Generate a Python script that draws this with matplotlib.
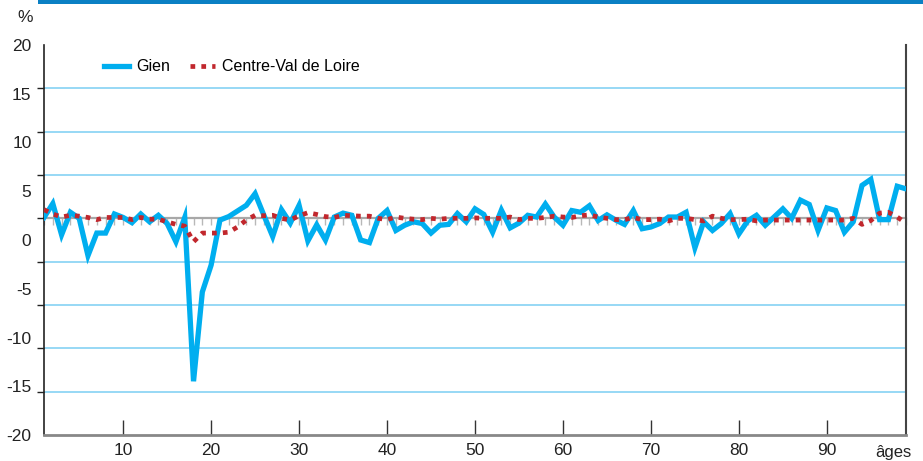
"""Gien vs Centre-Val de Loire: écart par âge (%), line chart."""

import numpy as np
import matplotlib

matplotlib.use("Agg")
import matplotlib.pyplot as plt
from matplotlib.patches import Rectangle

plt.rcParams["font.family"] = ["Liberation Sans", "DejaVu Sans"]

ages = list(range(1, 100))

gien = [
    0.1, 1.7, -1.9, 0.7, 0.0, -4.3, -1.7, -1.7, 0.5, 0.1,
    -0.5, 0.5, -0.4, 0.35, -0.6, -2.7, 0.1, -18.8, -8.5, -5.4,
    -0.2, 0.2, 0.85, 1.5, 2.85, 0.35, -2.1, 1.0, -0.55, 1.5,
    -2.6, -0.75, -2.5, 0.15, 0.6, 0.35, -2.5, -2.8, 0.0, 0.9,
    -1.4, -0.8, -0.4, -0.6, -1.7, -0.8, -0.7, 0.55, -0.4, 1.1,
    0.45, -1.6, 0.95, -1.1, -0.55, 0.35, 0.15, 1.65, 0.15, -0.8,
    0.9, 0.7, 1.45, -0.25, 0.4, -0.2, -0.7, 0.9, -1.2, -1.0,
    -0.6, 0.15, 0.15, 0.7, -3.4, -0.4, -1.4, -0.6, 0.55, -1.8,
    -0.3, 0.35, -0.8, 0.15, 1.1, 0.0, 2.1, 1.6, -1.4, 1.2,
    0.9, -1.6, -0.4, 3.8, 4.5, -0.15, -0.15, 3.7, 3.4,
]

centre = [
    1.0, 0.5, 0.15, 0.35, 0.25, 0.1, -0.15, 0.1, 0.1, 0.1,
    -0.15, 0.1, -0.1, -0.1, -0.4, -0.7, -0.9, -2.7, -1.7, -1.7,
    -1.7, -1.6, -1.0, -0.2, 0.35, 0.3, 0.35, 0.0, -0.2, 0.3,
    0.65, 0.45, 0.2, 0.1, 0.35, 0.3, 0.25, 0.25, 0.0, -0.15,
    0.15, 0.0, -0.1, -0.15, 0.0, -0.1, 0.0, 0.0, 0.0, 0.05,
    0.0, 0.0, 0.0, 0.15, -0.15, 0.0, 0.0, 0.1, 0.25, 0.15,
    0.1, 0.3, 0.4, 0.15, 0.0, -0.15, -0.15, 0.1, -0.15, -0.15,
    -0.1, -0.3, 0.0, 0.0, -0.15, -0.3, 0.25, 0.0, -0.15, -0.15,
    -0.1, -0.3, -0.2, -0.2, -0.2, -0.2, -0.2, -0.2, -0.2, -0.2,
    -0.2, -0.2, 0.0, -0.7, -0.25, 0.6, 0.7, 0.15, -0.55,
]

x_ticks = [10, 20, 30, 40, 50, 60, 70, 80, 90]
y_labels = ["20", "15", "10", "5", "0", "-5", "-10", "-15", "-20"]

BLUE = "#00aeef"
RED = "#c1272d"
GRID = "#8fd6f4"
GREY = "#a8a8a8"

fig = plt.figure(figsize=(9.23, 4.61), dpi=100)
ax = fig.add_axes([44 / 923, 1 - 435 / 461, 862 / 923, 390 / 461])

# header bar
fig.add_artist(Rectangle((38 / 923, 1 - 4 / 461), 1, 4 / 461,
                         transform=fig.transFigure, color="#0a80c4", lw=0))

for v in np.arange(-20, 20, 5):
    if v != 0:
        ax.axhline(v, color=GRID, lw=1.3, zorder=1)

ax.plot(ages, gien, color=BLUE, lw=3.8, solid_joinstyle="miter", label="Gien", zorder=3)
ax.plot(ages, centre, color=RED, lw=3.4, linestyle=(0, (1, 1.3)),
        label="Centre-Val de Loire", zorder=4)

ax.set_xlim(1, 99)
ax.set_ylim(-25, 20)

# x axis
ax.set_xticks(x_ticks)
ax.tick_params(axis="x", direction="in", length=11, width=1, color="#333333",
               labelsize=12.5, pad=6, labelcolor="#222222")

# y axis: labels spread evenly, tick marks every 5
ax.set_yticks(np.linspace(20, -25, len(y_labels)))
ax.set_yticklabels(y_labels)
ax.set_yticks(np.arange(-25, 21, 5), minor=True)
ax.tick_params(axis="y", which="major", length=0, pad=9, labelsize=12.5, labelcolor="#222222")
ax.tick_params(axis="y", which="minor", length=5, width=1, color="#222222")

ax.spines["top"].set_visible(False)
ax.spines["left"].set_color("#222222")
ax.spines["left"].set_linewidth(1.2)
ax.spines["right"].set_color("#444444")
ax.spines["right"].set_linewidth(1.5)
ax.spines["bottom"].set_color("#888888")
ax.spines["bottom"].set_linewidth(2)

# zero line with a tick at every age
zero = ax.secondary_xaxis(0, transform=ax.transData)
zero.set_xticks(ages)
zero.tick_params(axis="x", direction="out", length=5, width=1, color="#b8b8b8",
                 labelbottom=False, labeltop=False)
for s in ("top", "bottom"):
    zero.spines[s].set_color(GREY)
    zero.spines[s].set_linewidth(1.6)

ax.legend(loc="center left", bbox_to_anchor=(0.0696, 0.9436), ncol=2, frameon=False,
          fontsize=11.5, handlelength=1.55, handletextpad=0.45, columnspacing=1.25,
          borderpad=0, borderaxespad=0)

fig.text(25 / 923, 1 - 18 / 461, "%", fontsize=12.5, ha="center", va="center", color="#222222")
fig.text(893 / 923, 1 - 452 / 461, "âges", fontsize=12, ha="center", va="center", color="#222222")

fig.savefig("out.png", dpi=100)
